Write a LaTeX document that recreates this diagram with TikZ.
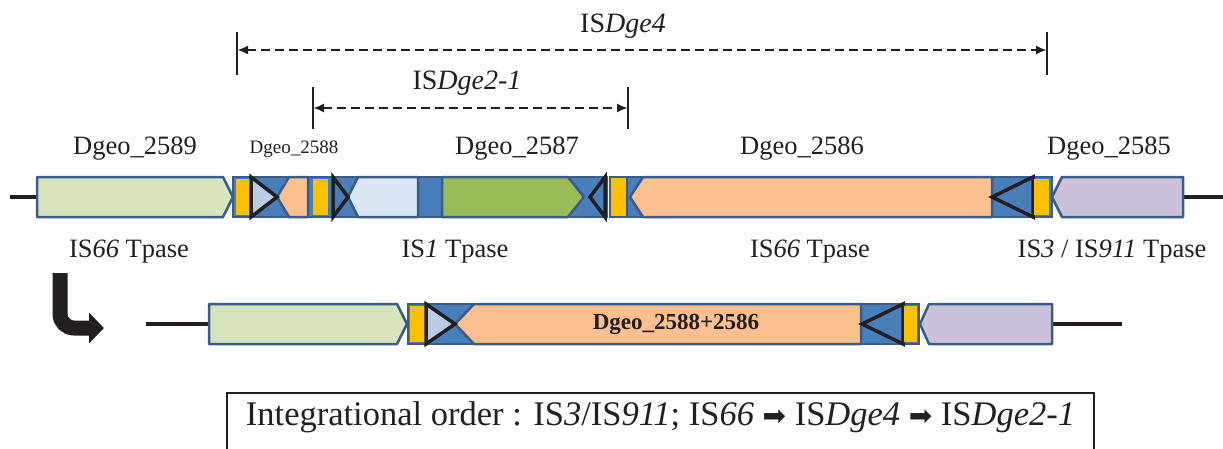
\documentclass[tikz,border=0pt]{standalone}
\usepackage{xcolor}
\usepackage{fontspec}
\setmainfont{Liberation Serif}
\newfontfamily\arrowfont{DejaVu Sans}
\usetikzlibrary{arrows.meta,positioning}

\definecolor{ink}{HTML}{231F20}
\definecolor{isline}{HTML}{385D8A}
\definecolor{isblue}{HTML}{4A7EBB}
\definecolor{dryellow}{HTML}{FFC000}
\definecolor{paleGreen}{HTML}{D7E4BD}
\definecolor{orfGreen}{HTML}{9BBB59}
\definecolor{peach}{HTML}{FAC090}
\definecolor{irBlue}{HTML}{B9CDE5}
\definecolor{paleBlue}{HTML}{DCE6F2}
\definecolor{lilac}{HTML}{CCC1DA}

\tikzset{
    backbone/.style={ink, line width=4pt},
    gene/.style={draw=isline, line width=2.5pt, line join=round},
    isband/.style={draw=isline, fill=isblue, line width=2.5pt},
    dr/.style={fill=dryellow},
    irbox/.style={draw=ink, line width=3.5pt},
    dimline/.style={ink, line width=2.5pt, dash pattern=on 9pt off 5pt,
        {Latex[length=11pt,width=9pt]}-{Latex[length=11pt,width=9pt]}},
    tickline/.style={ink, line width=2.5pt},
    lbl/.style={text=ink, inner sep=0pt, anchor=base, font=\fontsize{26.5}{31}\selectfont},
    lblsmall/.style={lbl, font=\fontsize{19}{23}\selectfont},
    lbldim/.style={lbl, font=\fontsize{28}{33}\selectfont}
}

\begin{document}
\begin{tikzpicture}[x=1pt,y=-1pt]
    \useasboundingbox (0,0) rectangle (1223,448);

    % IS element spans
    \coordinate (ge4L) at (237,50);
    \coordinate (ge4R) at (1047,50);
    \coordinate (ge2L) at (313,108);
    \coordinate (ge2R) at (628,108);
    \draw[tickline] (237,32) -- (237,75);
    \draw[tickline] (1047,32) -- (1047,75);
    \draw[tickline] (313,87) -- (313,129);
    \draw[tickline] (628,87) -- (628,129);
    \draw[dimline] (ge4L) -- (ge4R);
    \draw[dimline] (ge2L) -- (ge2R);
    \node[lbldim] (isdge4) at (623,32) {IS\textit{Dge4}};
    \node[lbldim] (isdge2) at (467,89) {IS\textit{Dge2-1}};

    % gene names
    \node[lbl] (n2589) at (135,154) {Dgeo\_2589};
    \node[lblsmall] (n2588) at (294,153) {Dgeo\_2588};
    \node[lbl] (n2587) at (517,154) {Dgeo\_2587};
    \node[lbl] (n2586) at (802,154) {Dgeo\_2586};
    \node[lbl] (n2585) at (1109,154) {Dgeo\_2585};

    % upper locus
    \draw[backbone] (10,197) -- (37,197);
    \draw[backbone] (1183,197) -- (1223,197);
    \draw[gene, fill=paleGreen] (37,177) -- (223,177) -- (233,197) -- (223,217) -- (37,217) -- cycle;
    \draw[isband] (233,177) rectangle (607,217);
    \fill[dr] (236,179) rectangle (251,215);
    \draw[gene, fill=peach] (277,197) -- (289,177) -- (308,177) -- (308,217) -- (289,217) -- cycle;
    \fill[dr] (313,179) rectangle (328,215);
    \draw[gene, fill=paleBlue] (348,197) -- (358,177) -- (418,177) -- (418,217) -- (358,217) -- cycle;
    \draw[gene, fill=orfGreen] (442,177) -- (568,177) -- (584,197) -- (568,217) -- (442,217) -- cycle;
    \draw[irbox, fill=irBlue] (251,177) -- (277,197) -- (251,217) -- cycle;
    \draw[irbox, fill=isblue] (333,177) -- (348,197) -- (333,217) -- cycle;
    \draw[irbox, fill=isblue] (605,177) -- (590,197) -- (605,217) -- cycle;
    \draw[isband, fill=dryellow] (610,177) rectangle (627,217);
    \draw[isband] (627,177) rectangle (1052,217);
    \draw[gene, fill=peach] (630,197) -- (643,177) -- (992,177) -- (992,217) -- (643,217) -- cycle;
    \draw[irbox, fill=isblue] (1033,177) -- (992,197) -- (1033,217) -- cycle;
    \fill[dr] (1034,179) rectangle (1049,215);
    \draw[gene, fill=lilac] (1052,197) -- (1062,177) -- (1183,177) -- (1183,217) -- (1062,217) -- cycle;

    % products
    \node[lbl] (tp66a) at (129,257) {IS\textit{66} Tpase};
    \node[lbl] (tp1) at (455,257) {IS\textit{1} Tpase};
    \node[lbl] (tp66b) at (810,257) {IS\textit{66} Tpase};
    \node[lbl] (tp3) at (1112,257) {IS\textit{3} / IS\textit{911} Tpase};

    % turn arrow
    \draw[ink, line width=15pt, rounded corners=14pt, -{Triangle[length=15pt,width=30pt]}]
        (60,273) -- (60,328) -- (104,328);

    % lower locus
    \draw[backbone] (146,324) -- (209,324);
    \draw[backbone] (1052,324) -- (1122,324);
    \draw[gene, fill=paleGreen] (209,304) -- (397,304) -- (407,324) -- (397,344) -- (209,344) -- cycle;
    \draw[isband] (408,304) rectangle (919,344);
    \fill[dr] (410,306) rectangle (426,342);
    \draw[gene, fill=peach] (455,324) -- (474,304) -- (861,304) -- (861,344) -- (474,344) -- cycle;
    \draw[irbox, fill=irBlue] (426,304) -- (455,324) -- (426,344) -- cycle;
    \draw[irbox, fill=isblue] (903,304) -- (862,324) -- (903,344) -- cycle;
    \fill[dr] (904,306) rectangle (917,342);
    \draw[gene, fill=lilac] (920,324) -- (929,304) -- (1052,304) -- (1052,344) -- (929,344) -- cycle;
    \node[text=ink, font=\bfseries\fontsize{23}{27}\selectfont] (fused) at (676,324) {Dgeo\_2588+2586};

    % order box
    \node[draw=ink, line width=2pt, anchor=base, minimum width=867pt, inner xsep=0pt, inner ysep=0pt,
          text height=32pt, text depth=30pt, text=ink, font=\fontsize{34.5}{40}\selectfont] (order) at (660.5,425)
        {Integrational order : IS\textit{3}/IS\textit{911}; IS\textit{66} {\arrowfont\fontsize{28}{32}\selectfont ➡} IS\textit{Dge4} {\arrowfont\fontsize{28}{32}\selectfont ➡} IS\textit{Dge2-1}};
\end{tikzpicture}
\end{document}
